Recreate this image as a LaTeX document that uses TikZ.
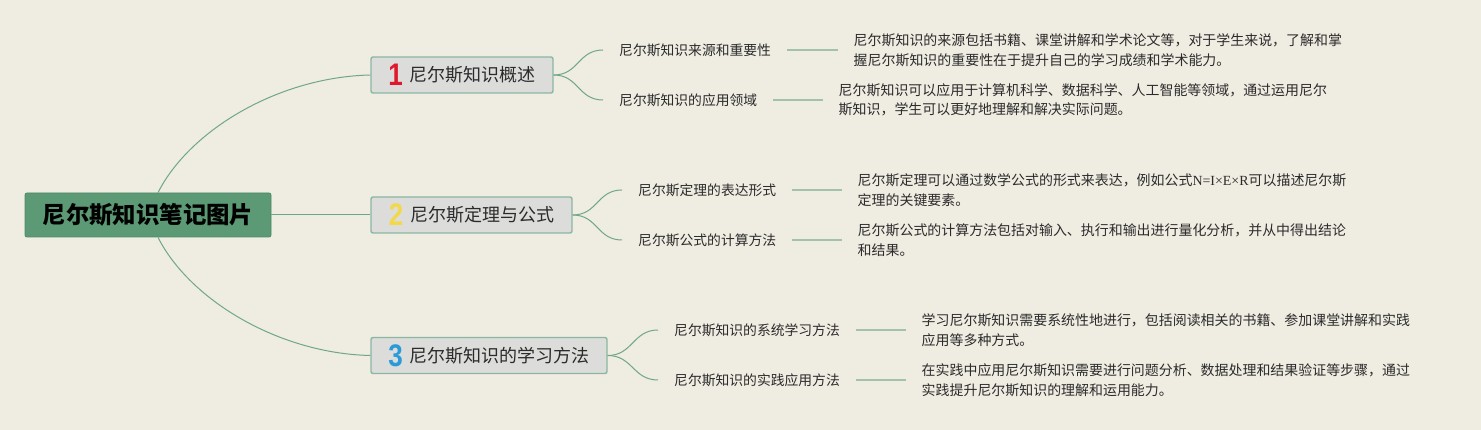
\documentclass[tikz,border=0pt]{standalone}
\usepackage{fontspec}
\setmainfont{Noto Sans CJK SC}
\newfontfamily\numfont{Liberation Sans}
\newfontfamily\serifx{Liberation Serif}
\definecolor{bgcol}{HTML}{EFECE2}
\definecolor{rootgreen}{HTML}{5B9A75}
\definecolor{rootborder}{HTML}{4F8A68}
\definecolor{boxgray}{HTML}{DCDCDB}
\definecolor{boxborder}{HTML}{8BB7A1}
\definecolor{conncol}{HTML}{6FA78A}
\definecolor{stubcol}{HTML}{A3C2AE}
\definecolor{textdark}{HTML}{2B2B2B}
\definecolor{numred}{HTML}{E0182D}
\definecolor{numyellow}{HTML}{F3D84A}
\definecolor{numblue}{HTML}{2A9AD8}
\newcommand\numbadge[2]{\raisebox{-4pt}{\color{#1}\numfont\bfseries\scalebox{1}[1.2]{\fontsize{26}{26}\selectfont #2}}}
\begin{document}
\begin{tikzpicture}[x=1pt,y=-1pt,
  rootbox/.style={fill=rootgreen, draw=rootborder, line width=0.8pt, rounded corners=2pt,
    minimum width=246pt, minimum height=44pt, inner sep=0pt,
    font=\fontsize{23.4}{28}\selectfont\bfseries, text=black},
  topicbox/.style={fill=boxgray, draw=boxborder, line width=1.4pt, rounded corners=2pt,
    minimum height=36pt, inner sep=0pt, font=\fontsize{18}{22}\selectfont, text=textdark},
  sublabel/.style={anchor=west, inner xsep=16pt, inner ysep=0pt,
    font=\fontsize{13.8}{16}\selectfont, text=textdark},
  desc/.style={anchor=west, inner xsep=15.5pt, inner ysep=0pt, align=left,
    font=\fontsize{13.95}{19.5}\selectfont, text=textdark},
  conn/.style={draw=conncol, line width=1pt},
  stub/.style={draw=stubcol, line width=2pt}]
\fill[bgcol] (0,0) rectangle (1481,430);
\useasboundingbox (0,0) rectangle (1481,430);

\node[rootbox] (root) at (148,215) {尼尔斯知识笔记图片};

\node[topicbox, minimum width=182pt] (t1) at (462,75) {\numbadge{numred}{1}\hspace{7pt}尼尔斯知识概述};
\node[topicbox, minimum width=201pt] (t2) at (471.5,215) {\numbadge{numyellow}{2}\hspace{7pt}尼尔斯定理与公式};
\node[topicbox, minimum width=236pt] (t3) at (489,355.5) {\numbadge{numblue}{3}\hspace{7pt}尼尔斯知识的学习方法};

\node[sublabel] (s1a) at (603,50) {尼尔斯知识来源和重要性};
\node[sublabel] (s1b) at (603,100) {尼尔斯知识的应用领域};
\node[sublabel] (s2a) at (622,190) {尼尔斯定理的表达形式};
\node[sublabel] (s2b) at (622,240) {尼尔斯公式的计算方法};
\node[sublabel] (s3a) at (658,330) {尼尔斯知识的系统学习方法};
\node[sublabel] (s3b) at (658,380) {尼尔斯知识的实践应用方法};

\node[desc] (d1a) at (838,50) {尼尔斯知识的来源包括书籍、课堂讲解和学术论文等，对于学生来说，了解和掌\\握尼尔斯知识的重要性在于提升自己的学习成绩和学术能力。};
\node[desc] (d1b) at (823,100) {尼尔斯知识可以应用于计算机科学、数据科学、人工智能等领域，通过运用尼尔\\斯知识，学生可以更好地理解和解决实际问题。};
\node[desc] (d2a) at (842,190) {尼尔斯定理可以通过数学公式的形式来表达，例如公式{\serifx N=I×E×R}可以描述尼尔斯\\定理的关键要素。};
\node[desc] (d2b) at (842,240) {尼尔斯公式的计算方法包括对输入、执行和输出进行量化分析，并从中得出结论\\和结果。};
\node[desc] (d3a) at (906,330) {学习尼尔斯知识需要系统性地进行，包括阅读相关的书籍、参加课堂讲解和实践\\应用等多种方式。};
\node[desc] (d3b) at (906,380) {在实践中应用尼尔斯知识需要进行问题分析、数据处理和结果验证等步骤，通过\\实践提升尼尔斯知识的理解和运用能力。};

\draw[conn] ([xshift=10pt]root.north) .. controls +(32,-63) and +(-91,2) .. (t1.west);
\draw[conn] (root.east) -- (t2.west);
\draw[conn] ([xshift=10pt]root.south) .. controls +(32,63) and +(-91,-2) .. (t3.west);

\foreach \t/\a/\b in {t1/s1a/s1b, t2/s2a/s2b, t3/s3a/s3b}{
  \draw[conn] (\t.east) .. controls +(25,0) and +(-25,0) .. (\a.west);
  \draw[conn] (\t.east) .. controls +(25,0) and +(-25,0) .. (\b.west);
}
\foreach \s/\d in {s1a/d1a, s1b/d1b, s2a/d2a, s2b/d2b, s3a/d3a, s3b/d3b}{
  \draw[stub] (\s.east) -- (\d.west);
}
\end{tikzpicture}
\end{document}
